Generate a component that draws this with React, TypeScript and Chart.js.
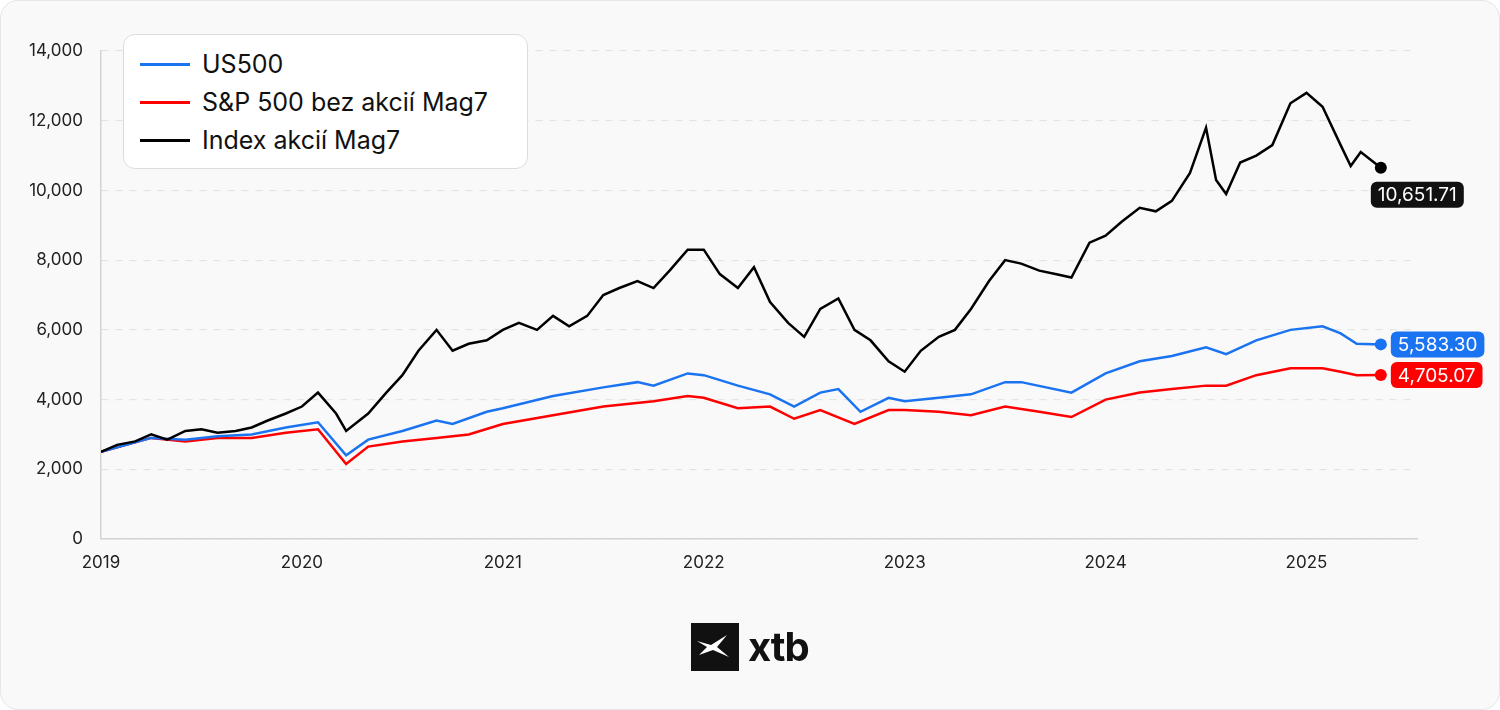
import React, { useEffect, useRef } from "react";
import { Chart, registerables } from "chart.js";
Chart.register(...registerables);

const mag7X = [2019.0,2019.08,2019.17,2019.25,2019.33,2019.42,2019.5,2019.58,2019.67,2019.75,2019.83,2019.92,2020.0,2020.08,2020.17,2020.22,2020.33,2020.42,2020.5,2020.58,2020.67,2020.75,2020.83,2020.92,2021.0,2021.08,2021.17,2021.25,2021.33,2021.42,2021.5,2021.58,2021.67,2021.75,2021.83,2021.92,2022.0,2022.08,2022.17,2022.25,2022.33,2022.42,2022.5,2022.58,2022.67,2022.75,2022.83,2022.92,2023.0,2023.08,2023.17,2023.25,2023.33,2023.42,2023.5,2023.58,2023.67,2023.75,2023.83,2023.92,2024.0,2024.08,2024.17,2024.25,2024.33,2024.42,2024.5,2024.55,2024.6,2024.67,2024.75,2024.83,2024.92,2025.0,2025.08,2025.17,2025.22,2025.27,2025.37];
const mag7Y = [2500,2700,2800,3000,2850,3100,3150,3050,3100,3200,3400,3600,3800,4200,3600,3100,3600,4200,4700,5400,6000,5400,5600,5700,6000,6200,6000,6400,6100,6400,7000,7200,7400,7200,7700,8300,8300,7600,7200,7800,6800,6200,5800,6600,6900,6000,5700,5100,4800,5400,5800,6000,6600,7400,8000,7900,7700,7600,7500,8500,8700,9100,9500,9400,9700,10500,11800,10300,9900,10800,11000,11300,12500,12800,12400,11300,10700,11100,10651.71];

const usX = [2019.0,2019.25,2019.42,2019.58,2019.75,2019.92,2020.08,2020.22,2020.33,2020.5,2020.67,2020.75,2020.92,2021.0,2021.25,2021.5,2021.67,2021.75,2021.92,2022.0,2022.17,2022.33,2022.45,2022.58,2022.67,2022.78,2022.92,2023.0,2023.17,2023.33,2023.5,2023.58,2023.83,2024.0,2024.17,2024.33,2024.5,2024.6,2024.75,2024.92,2025.08,2025.17,2025.25,2025.37];
const usY = [2500,2900,2850,2950,3000,3200,3350,2400,2850,3100,3400,3300,3650,3750,4100,4350,4500,4400,4750,4700,4400,4150,3800,4200,4300,3650,4050,3950,4050,4150,4500,4500,4200,4750,5100,5250,5500,5300,5700,6000,6100,5900,5600,5583.30];

const exX = [2019.0,2019.25,2019.42,2019.58,2019.75,2019.92,2020.08,2020.22,2020.33,2020.5,2020.67,2020.83,2021.0,2021.25,2021.5,2021.75,2021.92,2022.0,2022.17,2022.33,2022.45,2022.58,2022.75,2022.92,2023.0,2023.17,2023.33,2023.5,2023.67,2023.83,2024.0,2024.17,2024.33,2024.5,2024.6,2024.75,2024.92,2025.08,2025.17,2025.25,2025.37];
const exY = [2500,2900,2800,2900,2900,3050,3150,2150,2650,2800,2900,3000,3300,3550,3800,3950,4100,4050,3750,3800,3450,3700,3300,3700,3700,3650,3550,3800,3650,3500,4000,4200,4300,4400,4400,4700,4900,4900,4800,4700,4705.07];

const yTicks = [0, 2000, 4000, 6000, 8000, 10000, 12000, 14000];
const xYears = [2019, 2020, 2021, 2022, 2023, 2024, 2025];
const labels = ["US500", "S&P 500 bez akcií Mag7", "Index akcií Mag7"];
const colors = ["#1a73f0", "#ff0000", "#000000"];

const FONT = "Inter, 'Noto Sans', sans-serif";

const endLabels = {
  id: "endLabels",
  afterDatasetsDraw(chart: any) {
    const ctx = chart.ctx;
    chart.data.datasets.forEach((ds: any, i: number) => {
      const meta = chart.getDatasetMeta(i);
      const pt = meta.data[meta.data.length - 1];
      const v = ds.data[ds.data.length - 1].y;
      const text = v.toLocaleString("en-US", { minimumFractionDigits: 2, maximumFractionDigits: 2 });
      ctx.save();
      ctx.font = `19px ${FONT}`;
      const w = ctx.measureText(text).width + 14;
      const h = 26;
      let bx, by;
      if (i === 2) { bx = pt.x - 10; by = pt.y + 14; }
      else { bx = pt.x + 10; by = pt.y - h / 2; }
      ctx.fillStyle = i === 2 ? "#111" : colors[i];
      ctx.beginPath();
      ctx.roundRect(bx, by, w, h, 6);
      ctx.fill();
      ctx.fillStyle = "#fff";
      ctx.textBaseline = "middle";
      ctx.textAlign = "center";
      ctx.fillText(text, bx + w / 2, by + h / 2 + 1);
      ctx.restore();
    });
  },
};

export default function App() {
  const ref = useRef<HTMLCanvasElement>(null);
  useEffect(() => {
    const mk = (xs: number[], ys: number[]) => xs.map((x, i) => ({ x, y: ys[i] }));
    const sets = [mk(usX, usY), mk(exX, exY), mk(mag7X, mag7Y)];
    const chart = new Chart(ref.current!, {
      type: "line",
      data: {
        datasets: sets.map((d, i) => ({
          label: labels[i],
          data: d,
          borderColor: colors[i],
          backgroundColor: colors[i],
          borderWidth: 2.5,
          tension: 0,
          pointRadius: (c: any) => (c.dataIndex === d.length - 1 ? 6 : 0),
          pointBorderWidth: 0,
          order: i === 2 ? 0 : i + 1,
        })),
      },
      options: {
        animation: false,
        responsive: true,
        maintainAspectRatio: false,
        layout: { padding: { top: 50, right: 82, left: 0, bottom: 0 } },
        plugins: { legend: { display: false }, tooltip: { enabled: false } },
        scales: {
          x: {
            type: "linear",
            min: 2019,
            max: 2025.55,
            afterBuildTicks: (s: any) => { s.ticks = xYears.map((v) => ({ value: v })); },
            afterFit: (s: any) => { s.height = 170; },
            ticks: { color: "#222", font: { size: 17, family: FONT }, padding: 6, callback: (v: any) => String(v) },
            grid: { display: false, drawTicks: true },
            border: { color: "#d4d4d4", width: 1.5 },
          },
          y: {
            min: 0,
            max: 14000,
            afterBuildTicks: (s: any) => { s.ticks = yTicks.map((v) => ({ value: v })); },
            afterFit: (s: any) => { s.width = 100; },
            ticks: { color: "#222", font: { size: 17, family: FONT }, padding: 18, callback: (v: any) => Number(v).toLocaleString("en-US") },
            grid: { color: "#e4e4e4", lineWidth: 1.2, drawTicks: false },
            border: { display: true, color: "#d4d4d4", width: 1.5, dash: [7, 7] },
          },
        },
      },
      plugins: [endLabels],
    } as any);
    return () => chart.destroy();
  }, []);

  return (
    <div style={{ position: "absolute", left: 0, top: 0, width: 1500, height: 710, background: "#f9f9fa", borderRadius: 18, border: "1px solid #e6e6e6", boxSizing: "border-box", overflow: "hidden", fontFamily: FONT }}>
      <canvas ref={ref} style={{ position: "absolute", left: 0, top: 0, width: 1500, height: 710 }} />
      <div style={{ position: "absolute", left: 122, top: 33, width: 405, height: 135, background: "#fff", border: "1.5px solid #dcdcdc", borderRadius: 12, boxSizing: "border-box", padding: "10px 0 0 16px" }}>
        {labels.map((l, i) => (
          <div key={l} style={{ display: "flex", alignItems: "center", height: 38, fontSize: 25, color: "#111" }}>
            <span style={{ width: 50, height: 3, background: colors[i], marginRight: 12 }} />
            {l}
          </div>
        ))}
      </div>
      <div style={{ position: "absolute", left: 690, top: 622, display: "flex", alignItems: "center" }}>
        <svg width="48" height="48" viewBox="0 0 48 48">
          <rect width="48" height="48" fill="#111" />
          <path d="M6 18 L20 22 L36 12 L26 24 L38 34 L22 27 L8 32 L16 24 Z" fill="#fff" />
        </svg>
        <span style={{ fontSize: 40, fontWeight: 700, color: "#111", marginLeft: 9, lineHeight: "48px", letterSpacing: -1 }}>xtb</span>
      </div>
    </div>
  );
}
